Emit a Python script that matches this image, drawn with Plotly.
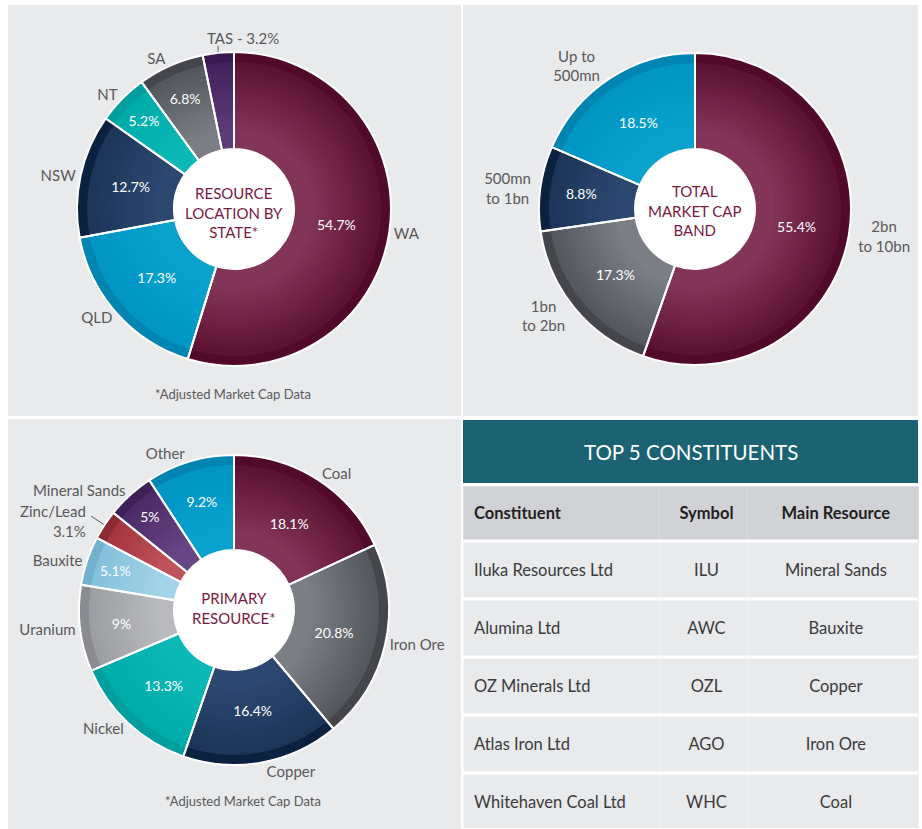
import math
import plotly.graph_objects as go

W, H = 922, 829

# ---------------- data ----------------
state_labels = ["WA", "QLD", "NSW", "NT", "SA", "TAS"]
state_values = [54.7, 17.3, 12.7, 5.2, 6.8, 3.2]
state_outside = ["WA", "QLD", "NSW", "NT", "SA", "TAS - 3.2%"]
state_inside_show = [True, True, True, True, True, False]
state_callout = [False, False, False, False, False, True]

cap_labels = ["2bn to 10bn", "1bn to 2bn", "500mn to 1bn", "Up to 500mn"]
cap_values = [55.4, 17.3, 8.8, 18.5]
cap_outside = ["2bn<br>to 10bn", "1bn<br>to 2bn", "500mn<br>to 1bn", "Up to<br>500mn"]
cap_inside_show = [True, True, True, True]
cap_callout = [False, False, False, False]

res_labels = ["Coal", "Iron Ore", "Copper", "Nickel", "Uranium", "Bauxite",
              "Zinc/Lead", "Mineral Sands", "Other"]
res_values = [18.1, 20.8, 16.4, 13.3, 9, 5.1, 3.1, 5, 9.2]
res_outside = ["Coal", "Iron Ore", "Copper", "Nickel", "Uranium", "Bauxite",
               "Zinc/Lead<br>3.1%", "Mineral Sands", "Other"]
res_inside_show = [True, True, True, True, True, True, False, True, True]
res_callout = [False, False, False, False, False, False, True, False, False]

table_title = "TOP 5 CONSTITUENTS"
table_cols = ["Constituent", "Symbol", "Main Resource"]
constituents = ["Iluka Resources Ltd", "Alumina Ltd", "OZ Minerals Ltd",
                "Atlas Iron Ltd", "Whitehaven Coal Ltd"]
symbols = ["ILU", "AWC", "OZL", "AGO", "WHC"]
main_resources = ["Mineral Sands", "Bauxite", "Copper", "Iron Ore", "Coal"]

# ---------------- styles ----------------
# (outer edge colour, inner/lighter colour, rim colour)
PAL = {
    "maroon": ("#5c1233", "#833459", "#520a2a"),
    "blue": ("#0095c3", "#08a2cd", "#0085b2"),
    "navy": ("#1c3558", "#2c4770", "#0b2140"),
    "teal": ("#00acaa", "#0cb8b6", "#009e9c"),
    "gray": ("#54575d", "#7b7e85", "#44464c"),
    "purple": ("#43225c", "#5d3a7a", "#381a50"),
    "lgray": ("#9c9ea3", "#b8babe", "#8a8c91"),
    "lblue": ("#84c1dc", "#a3d3e8", "#72b2cf"),
    "red": ("#a6363e", "#c0545c", "#8e2a33"),
    "purple2": ("#4b2a66", "#684584", "#3e1f57"),
}
state_cols = ["maroon", "blue", "navy", "teal", "gray", "purple"]
cap_cols = ["maroon", "gray", "navy", "blue"]
res_cols = ["maroon", "gray", "navy", "teal", "lgray", "lblue", "red", "purple2", "blue"]

FONT = "Lato"
LABEL_COLOR = "#58595b"
TITLE_COLOR = "#7a1845"
PANEL = "#e9eaec"
N_LAYERS = 16


def hex_rgb(h):
    h = h.lstrip("#")
    return tuple(int(h[i:i + 2], 16) for i in (0, 2, 4))


def lerp(c1, c2, t):
    a, b = hex_rgb(c1), hex_rgb(c2)
    return "rgb(%d,%d,%d)" % tuple(round(a[i] + (b[i] - a[i]) * t) for i in range(3))


def dom(cx, cy, r):
    return dict(x=[(cx - r) / W, (cx + r) / W], y=[1 - (cy + r) / H, 1 - (cy - r) / H])


fig = go.Figure()
shapes = []
annotations = []


def base_pie(labels, values, cx, cy, rad, hole_r):
    return dict(labels=labels, values=values, sort=False, direction="clockwise",
                rotation=0, domain=dom(cx, cy, rad), hole=hole_r / rad,
                hoverinfo="skip", showlegend=False)


def add_donut(labels, values, cols, outside, inside_show, callout, cx, cy, R,
              hole_r=60, rim=10, r_min=80):
    r = R - rim
    # rim layer
    fig.add_trace(go.Pie(**base_pie(labels, values, cx, cy, R, hole_r),
                         marker=dict(colors=[PAL[c][2] for c in cols], line=dict(width=0)),
                         textinfo="none"))
    # shaded layers (darker at the edge, lighter toward the centre)
    for k in range(N_LAYERS):
        t = k / (N_LAYERS - 1)
        rad = r - (r - r_min) * t
        fig.add_trace(go.Pie(**base_pie(labels, values, cx, cy, rad, hole_r),
                             marker=dict(colors=[lerp(PAL[c][0], PAL[c][1], t) for c in cols],
                                         line=dict(width=0)),
                             textinfo="none"))
    # inside percentages
    fig.add_trace(go.Pie(**base_pie(labels, values, cx, cy, r, hole_r),
                         marker=dict(colors=["rgba(0,0,0,0)"] * len(values), line=dict(width=0)),
                         text=[(f"{v:g}%" if s else "") for v, s in zip(values, inside_show)],
                         textinfo="text", textposition="inside",
                         insidetextorientation="horizontal",
                         insidetextfont=dict(family=FONT, size=14, color="white")))
    # white separators + outside labels
    fig.add_trace(go.Pie(**base_pie(labels, values, cx, cy, R, hole_r),
                         marker=dict(colors=["rgba(0,0,0,0)"] * len(values),
                                     line=dict(color="white", width=2)),
                         text=[("" if c else o) for o, c in zip(outside, callout)],
                         textinfo="text", textposition="outside",
                         outsidetextfont=dict(family=FONT, size=15, color=LABEL_COLOR)))
    # call-out labels for thin slices (positioned from the slice's mid angle)
    total = sum(values)
    cum = 0.0
    for v, o, c in zip(values, outside, callout):
        mid = (cum + v / 2) / total
        cum += v
        if not c:
            continue
        th = 2 * math.pi * mid
        s, co = math.sin(th), math.cos(th)
        x0, y0 = cx + (R + 1) * s, cy - (R + 1) * co
        x1, y1 = cx + (R + 16) * s, cy - (R + 16) * co
        if abs(s) < 0.3:
            x1, y1 = x0, cy - (R + 7) * co
            annotations.append(dict(x=(x1 - 13) / W, y=1 - (y1 + 3) / H, xref="paper", yref="paper",
                                    xanchor="left", yanchor="bottom", text=o, showarrow=False,
                                    font=dict(family=FONT, size=15, color=LABEL_COLOR)))
        else:
            annotations.append(dict(x=(x1 - 3) / W, y=1 - (y1 + 5) / H, xref="paper", yref="paper",
                                    xanchor="right", yanchor="middle", align="right",
                                    text=o, showarrow=False,
                                    font=dict(family=FONT, size=15, color=LABEL_COLOR)))
        shapes.append(dict(type="line", xref="paper", yref="paper", layer="above",
                           x0=x0 / W, x1=x1 / W, y0=1 - y0 / H, y1=1 - y1 / H,
                           line=dict(color=LABEL_COLOR, width=1)))


# panels
for x0, y0, x1, y1 in [(8, 5, 461, 416), (463, 5, 918, 416), (8, 419, 461, 829)]:
    shapes.append(dict(type="rect", xref="paper", yref="paper", layer="below",
                       x0=x0 / W, x1=x1 / W, y0=1 - y1 / H, y1=1 - y0 / H,
                       fillcolor=PANEL, line=dict(width=0)))

add_donut(state_labels, state_values, state_cols, state_outside, state_inside_show,
          state_callout, 234, 209, 157)
add_donut(cap_labels, cap_values, cap_cols, cap_outside, cap_inside_show,
          cap_callout, 695, 209, 156)
add_donut(res_labels, res_values, res_cols, res_outside, res_inside_show,
          res_callout, 234, 610, 155)

# white centre discs
for cx, cy in [(234, 209), (695, 209), (234, 610)]:
    shapes.append(dict(type="circle", xref="paper", yref="paper", layer="below",
                       x0=(cx - 61) / W, x1=(cx + 61) / W, y0=1 - (cy + 61) / H, y1=1 - (cy - 61) / H,
                       fillcolor="white", line=dict(width=0)))

for cx, cy, txt in [(234, 212, "RESOURCE<br>LOCATION BY<br>STATE*"),
                    (695, 211, "TOTAL<br>MARKET CAP<br>BAND"),
                    (234, 608, "PRIMARY<br>RESOURCE*")]:
    annotations.append(dict(x=cx / W, y=1 - cy / H, xref="paper", yref="paper",
                            xanchor="center", yanchor="middle",
                            text=txt, showarrow=False,
                            font=dict(family=FONT, size=15, color=TITLE_COLOR)))
for cx, cy in [(233, 394), (243, 801)]:
    annotations.append(dict(x=cx / W, y=1 - cy / H, xref="paper", yref="paper",
                            xanchor="center", yanchor="middle",
                            text="*Adjusted Market Cap Data", showarrow=False,
                            font=dict(family=FONT, size=13, color=LABEL_COLOR)))

# ---------------- table ----------------
TX0, TX1 = 463, 918
shapes.append(dict(type="rect", xref="paper", yref="paper", layer="below",
                   x0=TX0 / W, x1=TX1 / W, y0=1 - 483 / H, y1=1 - 420 / H,
                   fillcolor="#1b6373", line=dict(width=0)))
annotations.append(dict(x=(TX0 + TX1) / 2 / W, y=1 - 452 / H, xref="paper", yref="paper",
                        xanchor="center", yanchor="middle", text=table_title, showarrow=False,
                        font=dict(family=FONT, size=20.5, color="white")))

T_TOP, HDR_H, ROW_H = 486, 55, 58
COLW = [197, 89, 171]
n_rows = len(constituents)
# cell backgrounds
fig.add_trace(go.Table(
    domain=dict(x=[TX0 / W, TX1 / W], y=[0, 1 - T_TOP / H]),
    columnwidth=COLW,
    header=dict(values=[""] * len(table_cols), fill_color="#d0d2d6", height=HDR_H,
                line=dict(color="#dadcdf", width=1)),
    cells=dict(values=[[""] * n_rows for _ in table_cols], fill_color=PANEL, height=ROW_H,
               line=dict(color="#f1f2f3", width=1)),
))
# cell texts (offset so the text sits vertically centred in each row)
HDR_SHIFT, ROW_SHIFT = 9, 15
fig.add_trace(go.Table(
    domain=dict(x=[(TX0 + 3) / W, (TX1 + 3) / W], y=[0, 1 - (T_TOP + HDR_SHIFT) / H]),
    columnwidth=COLW,
    header=dict(values=[f"<b>{c}</b>" for c in table_cols],
                fill_color="rgba(0,0,0,0)", height=HDR_H - HDR_SHIFT + ROW_SHIFT,
                align=["left", "center", "center"], line=dict(width=0),
                font=dict(family=FONT, size=16.5, color="#231f20")),
    cells=dict(values=[constituents, symbols, main_resources],
               fill_color="rgba(0,0,0,0)", height=ROW_H,
               align=["left", "center", "center"], line=dict(width=0),
               font=dict(family=FONT, size=16.5, color="#3a3a3c")),
))
for i in range(n_rows):
    yb = T_TOP + HDR_H + i * ROW_H
    shapes.append(dict(type="rect", xref="paper", yref="paper", layer="above",
                       x0=TX0 / W, x1=TX1 / W, y0=1 - (yb + 1.5) / H, y1=1 - (yb - 1.5) / H,
                       fillcolor="white", line=dict(width=0)))

fig.update_layout(
    width=W, height=H, margin=dict(l=0, r=0, t=0, b=0),
    paper_bgcolor="white", plot_bgcolor="white",
    shapes=shapes, annotations=annotations,
    font=dict(family=FONT),
)
fig.write_html("out.html")
